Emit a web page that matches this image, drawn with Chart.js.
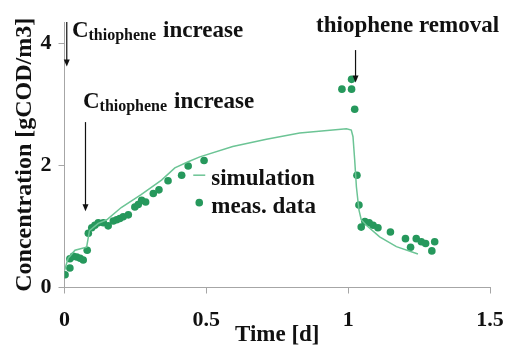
<!DOCTYPE html>
<html lang="en">
<head>
    <meta charset="UTF-8">
    <title>Thiophene concentration</title>
    <script src="https://cdn.jsdelivr.net/npm/chart.js@4.4.1/dist/chart.umd.min.js"></script>
    <style>
        html, body {
            margin: 0;
            padding: 0;
            background: #fff;
        }
        #wrap {
            width: 510px;
            height: 349px;
        }
    </style>
</head>
<body>
    <div id="wrap"><canvas id="chart"></canvas></div>

    <script>
        // measured data
        const measX = [0.002, 0.019, 0.019, 0.031, 0.043, 0.055, 0.066, 0.080, 0.084, 0.096, 0.107, 0.119, 0.137, 0.154,
            0.172, 0.184, 0.195, 0.207, 0.225, 0.248, 0.260, 0.272, 0.286, 0.313, 0.333, 0.365, 0.413, 0.436, 0.492,
            0.978, 1.012, 1.012, 1.023, 1.031, 1.038, 1.046, 1.059, 1.074, 1.088, 1.105, 1.149, 1.202, 1.220, 1.240,
            1.258, 1.273, 1.295, 1.305];
        const measY = [0.21, 0.32, 0.47, 0.51, 0.50, 0.48, 0.45, 0.61, 0.89, 0.98, 1.02, 1.06, 1.06, 1.01,
            1.09, 1.11, 1.13, 1.16, 1.19, 1.32, 1.36, 1.43, 1.40, 1.54, 1.60, 1.75, 1.84, 1.99, 2.08,
            3.25, 3.41, 3.25, 2.92, 1.84, 1.35, 0.99, 1.08, 1.06, 1.02, 0.98, 0.91, 0.80, 0.66, 0.80,
            0.75, 0.72, 0.60, 0.75];

        // simulation
        const simX = [0, 0.013, 0.037, 0.060, 0.078, 0.088, 0.119, 0.149, 0.2, 0.27, 0.342, 0.389, 0.436, 0.477,
            0.593, 0.712, 0.829, 0.994, 1.011, 1.017, 1.023, 1.029, 1.038, 1.046, 1.064, 1.111, 1.170, 1.246];
        const simY = [0.28, 0.48, 0.61, 0.64, 0.66, 0.93, 1.05, 1.11, 1.31, 1.52, 1.76, 1.96, 2.06, 2.14,
            2.31, 2.43, 2.53, 2.60, 2.58, 2.47, 2.09, 1.65, 1.27, 1.11, 1.02, 0.83, 0.67, 0.55];

        const xTicks = [0, 0.5, 1, 1.5];
        const yTicks = [0, 2, 4];

        // arrows: x, y start, y end (data units)
        const arrows = [[0.008, 4.35, 3.62], [0.074, 2.71, 1.25], [1.026, 3.89, 3.36]];

        const dotColor = '#26985c';
        const lineColor = '#6cc495';
        const axisColor = '#a6a6a6';
        const serif = '"Liberation Serif", "Times New Roman", serif';

        const annotations = {
            id: 'annotations',
            afterDatasetsDraw(chart) {
                const c = chart.ctx;
                const x = chart.scales.x, y = chart.scales.y;
                c.save();
                c.strokeStyle = '#111';
                c.fillStyle = '#111';
                c.lineWidth = 1.2;
                arrows.forEach(a => {
                    const px = x.getPixelForValue(a[0]);
                    const y0 = y.getPixelForValue(a[1]);
                    const y1 = y.getPixelForValue(a[2]);
                    c.beginPath();
                    c.moveTo(px, y0);
                    c.lineTo(px, y1 - 6);
                    c.stroke();
                    c.beginPath();
                    c.moveTo(px - 3, y1 - 7);
                    c.lineTo(px + 3, y1 - 7);
                    c.lineTo(px, y1);
                    c.closePath();
                    c.fill();
                });

                c.textBaseline = 'alphabetic';
                c.textAlign = 'left';
                function cLabel(px, py) {
                    c.font = 'bold 23px ' + serif;
                    c.fillText('C', px, py);
                    let w = c.measureText('C').width;
                    c.font = 'bold 16px ' + serif;
                    c.fillText('thiophene', px + w, py + 3);
                    w += c.measureText('thiophene').width;
                    c.font = 'bold 23px ' + serif;
                    c.fillText('increase', px + w + 7, py);
                }
                cLabel(x.getPixelForValue(0.026), y.getPixelForValue(4.11));
                cLabel(x.getPixelForValue(0.065), y.getPixelForValue(2.94));

                c.font = 'bold 23px ' + serif;
                c.fillText('thiophene removal', x.getPixelForValue(0.887), y.getPixelForValue(4.18));

                // legend
                const lx = x.getPixelForValue(0.468);
                const ly1 = y.getPixelForValue(1.84);
                const ly2 = y.getPixelForValue(1.39);
                c.strokeStyle = lineColor;
                c.lineWidth = 1.5;
                c.beginPath();
                c.moveTo(lx - 4, ly1);
                c.lineTo(lx + 8, ly1);
                c.stroke();
                c.fillStyle = dotColor;
                c.beginPath();
                c.arc(lx + 2, ly2, 3.8, 0, Math.PI * 2);
                c.fill();
                c.fillStyle = '#111';
                c.textBaseline = 'middle';
                c.fillText('simulation', lx + 14, ly1 + 4);
                c.fillText('meas. data', lx + 14, ly2 + 4);
                c.restore();
            }
        };

        new Chart(document.getElementById('chart'), {
            type: 'scatter',
            data: {
                datasets: [{
                    label: 'simulation',
                    data: simX.map((v, i) => ({ x: v, y: simY[i] })),
                    showLine: true,
                    borderColor: lineColor,
                    borderWidth: 1.5,
                    pointRadius: 0,
                    tension: 0
                }, {
                    label: 'meas. data',
                    data: measX.map((v, i) => ({ x: v, y: measY[i] })),
                    backgroundColor: dotColor,
                    borderColor: dotColor,
                    pointRadius: 3.8,
                    borderWidth: 0
                }]
            },
            options: {
                responsive: true,
                maintainAspectRatio: false,
                animation: false,
                layout: { padding: { top: 22, right: 20, left: 0, bottom: 0 } },
                plugins: {
                    legend: { display: false },
                    tooltip: { enabled: false }
                },
                scales: {
                    x: {
                        type: 'linear',
                        min: 0,
                        max: 1.5,
                        afterBuildTicks: s => { s.ticks = xTicks.map(v => ({ value: v })); },
                        afterFit: s => {
                            s.height = 61.5;
                            s.paddingLeft = 0;
                            s.paddingRight = 0;
                        },
                        ticks: {
                            color: '#111',
                            font: { family: serif, size: 22, weight: 'bold' },
                            padding: 14,
                            maxRotation: 0,
                            callback: v => String(v)
                        },
                        grid: { drawOnChartArea: false, tickLength: 6, color: axisColor },
                        border: { color: axisColor },
                        title: {
                            display: true,
                            text: 'Time [d]',
                            color: '#111',
                            font: { family: serif, size: 23, weight: 'bold' },
                            padding: 0
                        }
                    },
                    y: {
                        min: 0,
                        max: 4.35,
                        afterBuildTicks: s => { s.ticks = yTicks.map(v => ({ value: v })); },
                        afterFit: s => { s.width = 64.5; },
                        ticks: {
                            color: '#111',
                            font: { family: serif, size: 22, weight: 'bold' },
                            padding: 7
                        },
                        grid: { drawOnChartArea: false, tickLength: 6, color: axisColor },
                        border: { color: axisColor },
                        title: {
                            display: true,
                            text: 'Concentration [gCOD/m3]',
                            color: '#111',
                            font: { family: serif, size: 24, weight: 'bold' },
                            padding: { top: 10 }
                        }
                    }
                }
            },
            plugins: [annotations]
        });
    </script>
</body>
</html>
